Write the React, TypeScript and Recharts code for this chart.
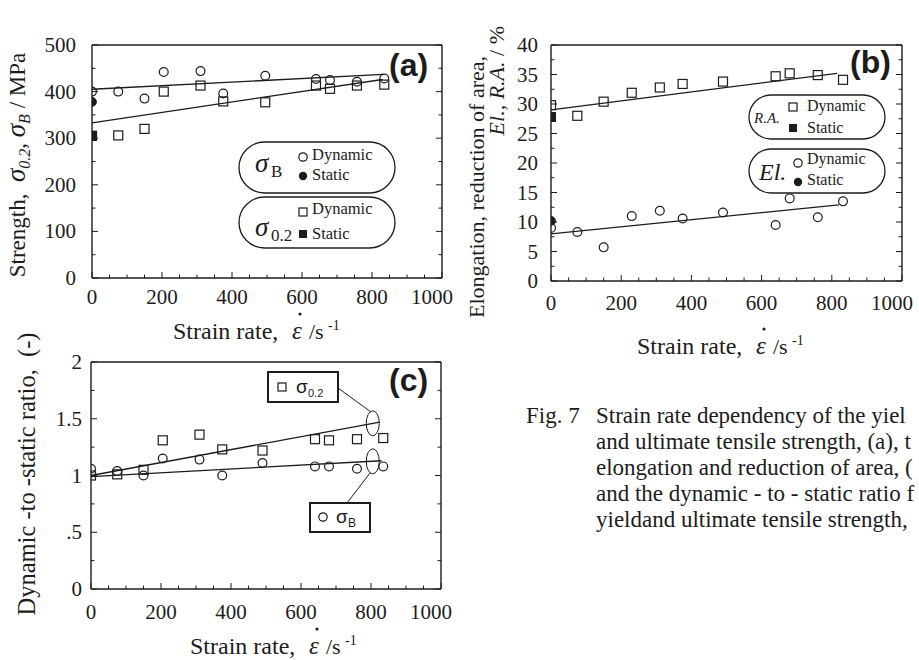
import React from 'react';
import { ComposedChart, Scatter, XAxis, YAxis, ReferenceLine, ReferenceDot } from 'recharts';

const W = 919;
const H = 660;
const SERIF = '"Liberation Serif", "Times New Roman", serif';
const SANS = '"Liberation Sans", Arial, sans-serif';
const INK = '#1c1c1c';

// ---------- (a) strength vs strain rate ----------
const rateA = [0, 75, 150, 205, 310, 375, 495, 640, 680, 757, 835];
const utsDynamicA = [400, 400, 385, 442, 444, 396, 434, 427, 425, 421, 428];
const ysDynamicA = [305, 306, 320, 400, 413, 379, 377, 413, 406, 413, 415];
const staticRate = [0];
const utsStaticA = [378];
const ysStaticA = [305];
const utsFitRateA = [0, 833];
const utsFitA = [405, 437];
const ysFitRateA = [0, 830];
const ysFitA = [333, 426];

// ---------- (b) elongation / reduction of area ----------
const rateB = [0, 75, 150, 230, 310, 375, 490, 640, 680, 760, 832];
const raDynamicB = [29.8, 28.0, 30.4, 31.9, 32.8, 33.4, 33.8, 34.7, 35.2, 34.9, 34.1];
const elDynamicB = [9.0, 8.3, 5.7, 11.0, 11.9, 10.6, 11.6, 9.5, 14.0, 10.8, 13.5];
const raStaticB = [27.8];
const elStaticB = [10.2];
const raFitRateB = [0, 815];
const raFitB = [29.0, 35.2];
const elFitRateB = [0, 820];
const elFitB = [8.0, 12.9];

// ---------- (c) dynamic-to-static ratio ----------
const rateC = [0, 75, 150, 205, 310, 375, 490, 640, 680, 760, 835];
const ratioYsC = [1.0, 1.01, 1.05, 1.31, 1.36, 1.23, 1.22, 1.32, 1.31, 1.32, 1.33];
const ratioUtsC = [1.06, 1.04, 1.0, 1.15, 1.14, 1.0, 1.11, 1.08, 1.08, 1.06, 1.08];
const ysFitRateC = [0, 825];
const ysFitC = [1.0, 1.47];
const utsFitRateC = [0, 830];
const utsFitC = [0.99, 1.13];
const ellipseRateC = [805];
const ellipseYsC = [1.46];
const ellipseUtsC = [1.125];

// ---------- tick values ----------
const rateTicks = [0, 50, 100, 150, 200, 250, 300, 350, 400, 450, 500, 550, 600, 650, 700, 750, 800, 850, 900, 950, 1000];
const rateLabels = [0, 200, 400, 600, 800, 1000];
const strengthTicks = [0, 50, 100, 150, 200, 250, 300, 350, 400, 450, 500];
const strengthLabels = [0, 100, 200, 300, 400, 500];
const pctTicks = [0, 2.5, 5, 7.5, 10, 12.5, 15, 17.5, 20, 22.5, 25, 27.5, 30, 32.5, 35, 37.5, 40];
const pctLabels = [0, 5, 10, 15, 20, 25, 30, 35, 40];
const ratioTicks = [0, 0.25, 0.5, 0.75, 1, 1.25, 1.5, 1.75, 2];
const ratioLabels = [0, 0.5, 1, 1.5, 2];

// ---------- caption (as visible, cut at the right edge) ----------
const captionHead = 'Fig. 7';
const captionLines = [
  'Strain rate dependency of the yiel',
  'and ultimate tensile strength, (a), t',
  'elongation and reduction of area, (',
  'and the dynamic - to - static ratio f',
  'yieldand ultimate tensile strength,',
];

const pts = (xs: number[], ys: number[]) => xs.map((x, i) => ({ x, y: ys[i] }));
const seg = (xs: number[], ys: number[]) => xs.map((x, i) => ({ x, y: ys[i] }));

const openCircle = (p: any) => <circle cx={p.cx} cy={p.cy} r={4.4} fill="none" stroke={INK} strokeWidth={1.2} />;
const fullCircle = (p: any) => <circle cx={p.cx} cy={p.cy} r={4.4} fill={INK} stroke={INK} strokeWidth={1} />;
const openSquare = (p: any) => <rect x={p.cx - 4.5} y={p.cy - 4.5} width={9} height={9} fill="none" stroke={INK} strokeWidth={1.2} />;
const fullSquare = (p: any) => <rect x={p.cx - 4.5} y={p.cy - 4.5} width={9} height={9} fill={INK} stroke={INK} strokeWidth={1} />;

type Orient = 'bottom' | 'top' | 'left' | 'right';

function makeTick(orient: Orient, labels: number[], fmt: (v: number) => string, gap: number, show: boolean) {
  return (props: any) => {
    const { x, y, payload } = props;
    const v = payload.value as number;
    const major = labels.some((l) => Math.abs(l - v) < 1e-9);
    const len = major ? 6 : 3.5;
    let x2 = x;
    let y2 = y;
    if (orient === 'bottom') y2 = y - len;
    if (orient === 'top') y2 = y + len;
    if (orient === 'left') x2 = x + len;
    if (orient === 'right') x2 = x - len;
    let label = null;
    if (show && major) {
      if (orient === 'bottom') {
        const dx = v === 1000 ? -10 : 0;
        label = (
          <text x={x + dx} y={y + gap} textAnchor="middle" fontSize={21} fontFamily={SERIF} fill={INK}>
            {fmt(v)}
          </text>
        );
      } else if (orient === 'left') {
        label = (
          <text x={x - gap} y={y + 7} textAnchor="end" fontSize={21} fontFamily={SERIF} fill={INK}>
            {fmt(v)}
          </text>
        );
      }
    }
    return (
      <g>
        <line x1={x} y1={y} x2={x2} y2={y2} stroke={INK} strokeWidth={1} />
        {label}
      </g>
    );
  };
}

type Box = { l: number; t: number; r: number; b: number };

function Panel(props: {
  box: Box;
  yDomain: [number, number];
  yTicks: number[];
  yLabels: number[];
  yFmt: (v: number) => string;
  xGap: number;
  yGap: number;
  children: React.ReactNode;
}) {
  const { box, yDomain, yTicks, yLabels, yFmt, xGap, yGap, children } = props;
  const LW = 50, BH = 30, TH = 5, RW = 5;
  const margin = { left: box.l - LW, top: box.t - TH, right: W - box.r - RW, bottom: H - box.b - BH };
  const fx = (v: number) => String(v);
  const axisLine = { stroke: INK, strokeWidth: 1.4 };
  return (
    <div style={{ position: 'absolute', left: 0, top: 0, width: W, height: H }}>
      <ComposedChart width={W} height={H} margin={margin}>
        <XAxis xAxisId="b" orientation="bottom" type="number" dataKey="x" domain={[0, 1000]} ticks={rateTicks}
          interval={0} height={BH} tickSize={0} tickMargin={0} tickLine={false} axisLine={axisLine}
          tick={makeTick('bottom', rateLabels, fx, xGap, true)} allowDataOverflow />
        <XAxis xAxisId="t" orientation="top" type="number" domain={[0, 1000]} ticks={rateTicks}
          interval={0} height={TH} tickSize={0} tickMargin={0} tickLine={false} axisLine={axisLine}
          tick={makeTick('top', rateLabels, fx, 0, false)} allowDataOverflow />
        <YAxis yAxisId="l" orientation="left" type="number" dataKey="y" domain={yDomain} ticks={yTicks}
          interval={0} width={LW} tickSize={0} tickMargin={0} tickLine={false} axisLine={axisLine}
          tick={makeTick('left', yLabels, yFmt, yGap, true)} allowDataOverflow />
        <YAxis yAxisId="r" orientation="right" type="number" domain={yDomain} ticks={yTicks}
          interval={0} width={RW} tickSize={0} tickMargin={0} tickLine={false} axisLine={axisLine}
          tick={makeTick('right', yLabels, yFmt, 0, false)} allowDataOverflow />
        {children}
      </ComposedChart>
    </div>
  );
}

const fitLine = (xs: number[], ys: number[], key: string) => (
  <ReferenceLine key={key} xAxisId="b" yAxisId="l" segment={seg(xs, ys)} stroke={INK} strokeWidth={1.3} ifOverflow="visible" />
);

const scatter = (key: string, data: { x: number; y: number }[], shape: any) => (
  <Scatter key={key} xAxisId="b" yAxisId="l" data={data} shape={shape} isAnimationActive={false} />
);

function XTitle({ x, y }: { x: number; y: number }) {
  return (
    <g fill={INK} fontFamily={SERIF}>
      <text x={x} y={y} fontSize={24}>Strain rate,</text>
      <text x={x + 119} y={y} fontSize={25} fontStyle="italic">ε</text>
      <circle cx={x + 127} cy={y - 25} r={1.6} fill={INK} />
      <text x={x + 136} y={y} fontSize={22}>/s</text>
      <text x={x + 155} y={y - 9} fontSize={14}>-1</text>
    </g>
  );
}

function Overlay() {
  const t = { fill: INK, fontFamily: SERIF } as const;
  return (
    <svg width={W} height={H} style={{ position: 'absolute', left: 0, top: 0, overflow: 'hidden' }}>
      {/* panel labels */}
      <text x={389} y={76} fontSize={32} fontWeight="bold" fontFamily={SANS} fill={INK}>(a)</text>
      <text x={850} y={73} fontSize={32} fontWeight="bold" fontFamily={SANS} fill={INK}>(b)</text>
      <text x={389} y={391} fontSize={32} fontWeight="bold" fontFamily={SANS} fill={INK}>(c)</text>

      {/* axis titles */}
      <text transform="translate(25,165) rotate(-90)" textAnchor="middle" fontSize={23} {...t} style={{ whiteSpace: 'pre' }}>
        {'Strength,  '}
        <tspan fontStyle="italic" fontSize={27}>σ</tspan>
        <tspan fontStyle="italic" fontSize={16} dy={5}>0.2</tspan>
        <tspan dy={-5}>{', '}</tspan>
        <tspan fontStyle="italic" fontSize={27}>σ</tspan>
        <tspan fontStyle="italic" fontSize={16} dy={5}>B</tspan>
        <tspan dy={-5}>{' / MPa'}</tspan>
      </text>
      <text transform="translate(484,318) rotate(-90)" textAnchor="start" fontSize={22} {...t}>
        Elongation, reduction of area,
      </text>
      <text transform="translate(504,26) rotate(-90)" textAnchor="end" fontSize={22} {...t} style={{ whiteSpace: 'pre' }}>
        <tspan fontStyle="italic">El., R.A.</tspan>
        {' / %'}
      </text>
      <text transform="translate(35,474) rotate(-90)" textAnchor="middle" fontSize={24.5} {...t} style={{ whiteSpace: 'pre' }}>
        {'Dynamic -to -static ratio,  (-)'}
      </text>
      <XTitle x={173} y={339} />
      <XTitle x={637} y={354} />
      <XTitle x={190} y={654} />

      {/* legend (a) */}
      <rect x={239} y={142} width={156} height={51} rx={25.5} fill="none" stroke={INK} strokeWidth={1.3} />
      <text x={255} y={172} fontSize={27} fontStyle="italic" {...t}>σ</text>
      <text x={271} y={177} fontSize={17} {...t}>B</text>
      <circle cx={303} cy={157} r={4.2} fill="none" stroke={INK} strokeWidth={1.2} />
      <text x={312} y={160} fontSize={16.5} {...t}>Dynamic</text>
      <circle cx={303} cy={176} r={4.2} fill={INK} />
      <text x={312} y={180} fontSize={16.5} {...t}>Static</text>
      <rect x={239} y={197} width={156} height={51} rx={25.5} fill="none" stroke={INK} strokeWidth={1.3} />
      <rect x={299} y={208} width={8} height={8} fill="none" stroke={INK} strokeWidth={1.2} />
      <text x={312} y={214} fontSize={16.5} {...t}>Dynamic</text>
      <text x={255} y={236} fontSize={27} fontStyle="italic" {...t}>σ</text>
      <text x={271} y={241} fontSize={17} {...t}>0.2</text>
      <rect x={299} y={230} width={8} height={8} fill={INK} />
      <text x={312} y={239} fontSize={16.5} {...t}>Static</text>

      {/* legend (b) */}
      <rect x={749} y={95} width={136} height={44} rx={22} fill="none" stroke={INK} strokeWidth={1.3} />
      <text x={754} y={123} fontSize={15} fontStyle="italic" {...t}>R.A.</text>
      <rect x={789} y={103} width={8} height={8} fill="none" stroke={INK} strokeWidth={1.2} />
      <text x={807} y={111} fontSize={16} {...t}>Dynamic</text>
      <rect x={789} y={124} width={8} height={8} fill={INK} />
      <text x={807} y={133} fontSize={16} {...t}>Static</text>
      <rect x={749} y={149} width={136} height={44} rx={22} fill="none" stroke={INK} strokeWidth={1.3} />
      <text x={759} y={180} fontSize={24} fontStyle="italic" {...t}>El.</text>
      <circle cx={798} cy={163} r={4.2} fill="none" stroke={INK} strokeWidth={1.2} />
      <text x={807} y={164} fontSize={16} {...t}>Dynamic</text>
      <circle cx={798} cy={182} r={4.2} fill={INK} />
      <text x={807} y={185} fontSize={16} {...t}>Static</text>

      {/* legend (c) */}
      <rect x={268} y={372} width={70} height={30} fill="#fff" stroke={INK} strokeWidth={2} />
      <rect x={278} y={383} width={8} height={8} fill="none" stroke={INK} strokeWidth={1.2} />
      <text x={296} y={393} fontSize={19} fontFamily={SANS} fill={INK}>σ</text>
      <text x={308} y={397} fontSize={11} fontFamily={SANS} fill={INK}>0.2</text>
      <rect x={310} y={503} width={60} height={29} fill="#fff" stroke={INK} strokeWidth={2} />
      <circle cx={323} cy={517} r={4.2} fill="none" stroke={INK} strokeWidth={1.2} />
      <text x={336} y={523} fontSize={19} fontFamily={SANS} fill={INK}>σ</text>
      <text x={348} y={527} fontSize={12} fontFamily={SANS} fill={INK}>B</text>
      <line x1={338} y1={388} x2={371} y2={412} stroke={INK} strokeWidth={1} />
      <line x1={370} y1={473} x2={347} y2={503} stroke={INK} strokeWidth={1} />

      {/* caption */}
      <g fontSize={23} {...t}>
        <text x={526} y={423}>{captionHead}</text>
        {captionLines.map((line, i) => (
          <text key={i} x={596} y={423 + i * 26}>{line}</text>
        ))}
      </g>
    </svg>
  );
}

const ellipseShape = (p: any) => (
  <ellipse cx={p.cx} cy={p.cy} rx={6.5} ry={12.5} fill="none" stroke={INK} strokeWidth={1} />
);

export default function App() {
  return (
    <div style={{ position: 'absolute', left: 0, top: 0, width: W, height: H, overflow: 'hidden', background: '#fff' }}>
      <Panel box={{ l: 92, t: 45, r: 442, b: 278 }} yDomain={[0, 500]} yTicks={strengthTicks} yLabels={strengthLabels}
        yFmt={(v) => String(v)} xGap={26} yGap={16}>
        {fitLine(utsFitRateA, utsFitA, 'fa1')}
        {fitLine(ysFitRateA, ysFitA, 'fa2')}
        {scatter('a1', pts(rateA, utsDynamicA), openCircle)}
        {scatter('a2', pts(rateA, ysDynamicA), openSquare)}
        {scatter('a3', pts(staticRate, utsStaticA), fullCircle)}
        {scatter('a4', pts(staticRate, ysStaticA), fullSquare)}
      </Panel>
      <Panel box={{ l: 551, t: 45, r: 902, b: 281 }} yDomain={[0, 40]} yTicks={pctTicks} yLabels={pctLabels}
        yFmt={(v) => String(v)} xGap={29} yGap={13}>
        {fitLine(raFitRateB, raFitB, 'fb1')}
        {fitLine(elFitRateB, elFitB, 'fb2')}
        {scatter('b1', pts(rateB, raDynamicB), openSquare)}
        {scatter('b2', pts(rateB, elDynamicB), openCircle)}
        {scatter('b3', pts(staticRate, raStaticB), fullSquare)}
        {scatter('b4', pts(staticRate, elStaticB), fullCircle)}
      </Panel>
      <Panel box={{ l: 91, t: 362, r: 441, b: 589 }} yDomain={[0, 2]} yTicks={ratioTicks} yLabels={ratioLabels}
        yFmt={(v) => (v === 0.5 ? '.5' : String(v))} xGap={30} yGap={9}>
        {fitLine(ysFitRateC, ysFitC, 'fc1')}
        {fitLine(utsFitRateC, utsFitC, 'fc2')}
        {scatter('c1', pts(rateC, ratioYsC), openSquare)}
        {scatter('c2', pts(rateC, ratioUtsC), openCircle)}
        <ReferenceDot xAxisId="b" yAxisId="l" x={ellipseRateC[0]} y={ellipseYsC[0]} shape={ellipseShape} ifOverflow="visible" />
        <ReferenceDot xAxisId="b" yAxisId="l" x={ellipseRateC[0]} y={ellipseUtsC[0]} shape={ellipseShape} ifOverflow="visible" />
      </Panel>
      <Overlay />
    </div>
  );
}
